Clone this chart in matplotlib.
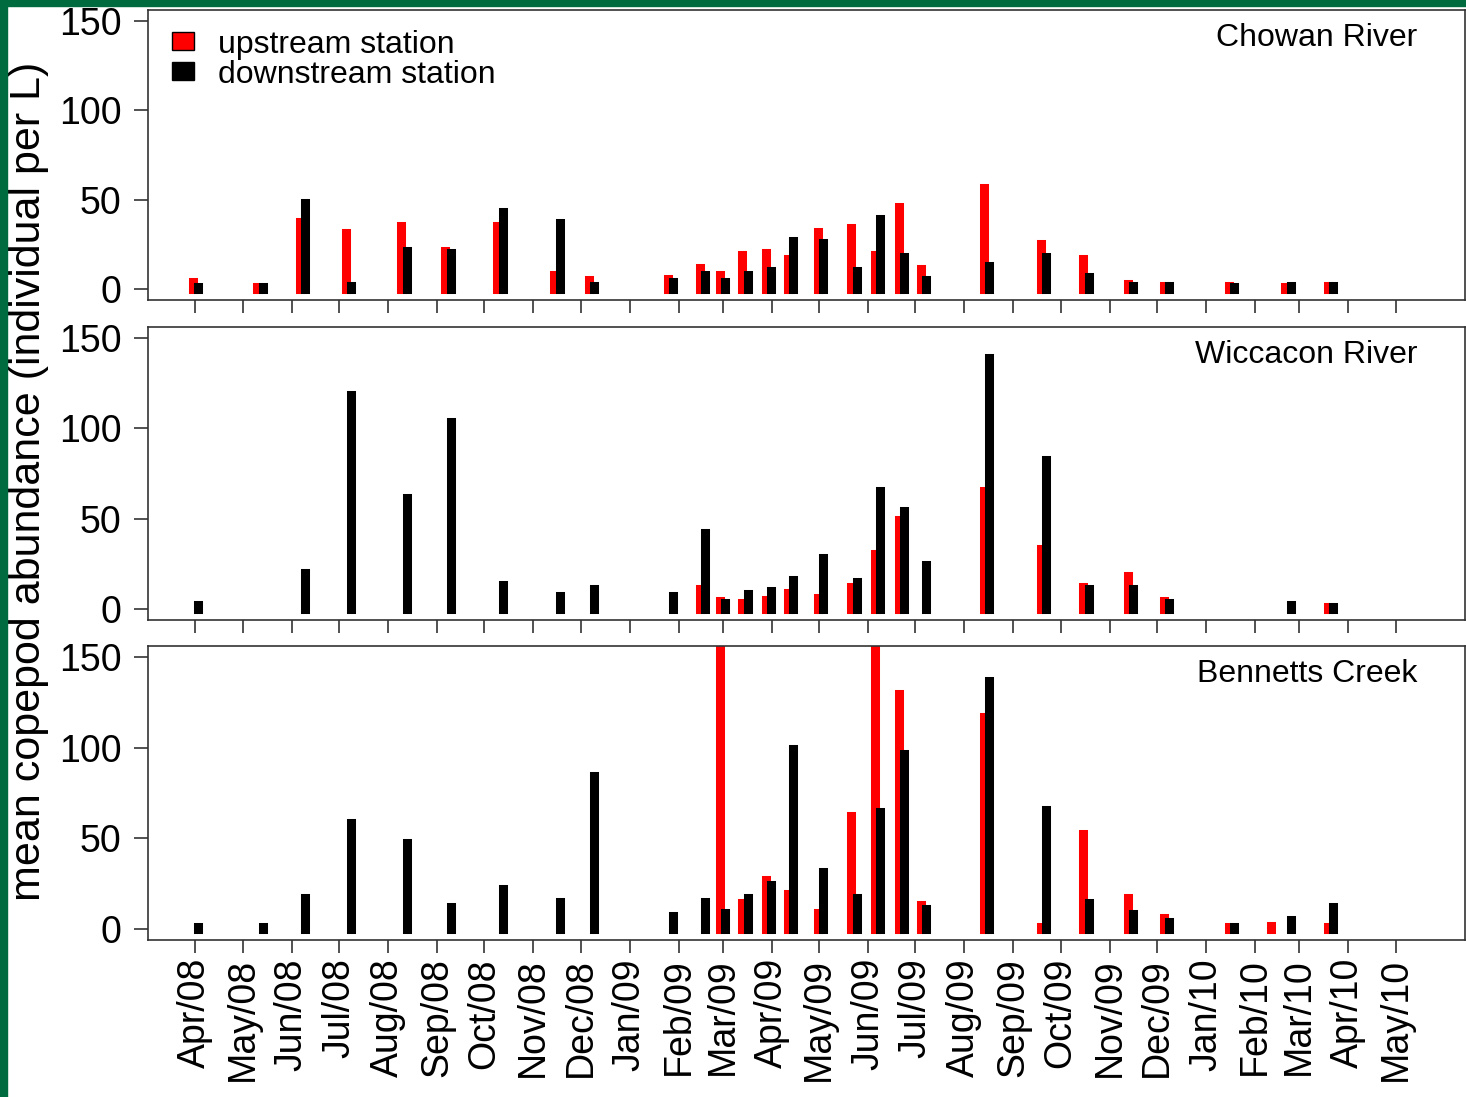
import numpy as np
import pandas as pd
import matplotlib
matplotlib.use("Agg")
import matplotlib.pyplot as plt
import matplotlib.dates as mdates
from matplotlib.patches import Patch, Rectangle

plt.rcParams['font.family'] = ['Liberation Sans', 'DejaVu Sans']

nan = np.nan

# sampling dates (shared by all three creeks)
sample_dates = ["2008-04-01", "2008-05-12", "2008-06-08", "2008-07-07", "2008-08-11",
                "2008-09-08", "2008-10-11", "2008-11-16", "2008-12-08", "2009-01-27",
                "2009-02-16", "2009-03-01", "2009-03-15", "2009-03-30", "2009-04-13",
                "2009-05-02", "2009-05-23", "2009-06-07", "2009-06-22", "2009-07-06",
                "2009-08-15", "2009-09-20", "2009-10-17", "2009-11-14", "2009-12-07",
                "2010-01-17", "2010-02-13", "2010-02-22", "2010-03-21"]

chowan_up = [3.9, 1.0, 37.4, 31.3, 35.2, 21.2, 35.2, 8.2, 5.0, 6.0,
             12.0, 8.0, 19.2, 20.1, 17.0, 32.2, 34.1, 19.2, 46.2, 11.1,
             56.4, 25.3, 17.0, 3.0, 1.9, 1.9, nan, 1.0, 1.9]
chowan_down = [1.0, 1.0, 48.4, 1.9, 21.2, 20.3, 43.2, 37.1, 1.9, 3.9,
               8.0, 3.9, 8.0, 10.0, 27.1, 26.1, 10.0, 39.2, 18.1, 5.0,
               13.1, 18.1, 7.1, 1.9, 1.9, 1.0, nan, 1.9, 1.9]

wiccacon_up = [nan, nan, nan, nan, nan, nan, nan, nan, nan, nan,
               11.2, 4.3, 3.2, 5.2, 9.2, 6.3, 12.3, 30.4, 49.5, nan,
               65.4, 33.3, 12.3, 18.2, 4.3, nan, nan, nan, 1.2]
wiccacon_down = [2.1, nan, 20.2, 118.4, 61.3, 103.4, 13.2, 7.2, 11.2, 7.2,
                 42.3, 3.2, 8.3, 10.3, 16.3, 28.2, 15.2, 65.4, 54.4, 24.4,
                 138.7, 82.4, 11.2, 11.2, 3.2, nan, nan, 2.1, 1.2]

bennetts_up = [nan, nan, nan, nan, nan, nan, nan, nan, nan, nan,
               nan, 190.0, 14.2, 27.2, 19.1, 9.1, 62.3, 175.0, 129.8, 13.1,
               116.8, 1.0, 52.3, 17.1, 5.9, 1.0, 1.9, nan, 1.0]
bennetts_down = [1.0, 1.0, 17.1, 58.4, 47.2, 12.0, 22.3, 15.1, 84.5, 7.0,
                 15.1, 9.1, 17.1, 24.3, 99.5, 31.3, 17.1, 64.5, 96.6, 11.0,
                 136.8, 65.4, 14.2, 8.1, 4.1, 1.0, nan, 5.0, 12.1]

sites = ["Chowan River", "Wiccacon River", "Bennetts Creek"]
upstream = [chowan_up, wiccacon_up, bennetts_up]
downstream = [chowan_down, wiccacon_down, bennetts_down]

W, H = 1466, 1097
fig = plt.figure(figsize=(W / 100, H / 100), dpi=100)

# panel boxes in pixels: (top, bottom)
boxes = [(10, 300), (327, 620), (646, 940)]
left_px, right_px = 148, 1465

dates = mdates.date2num(pd.to_datetime(sample_dates))
months = pd.date_range("2008-04-01", "2010-05-01", freq="MS")
shift = 1.7  # days between upstream / downstream bars
lw = 6.5
edge = "#333333"

for i, (site, up, down) in enumerate(zip(sites, upstream, downstream)):
    top, bot = boxes[i]
    ax = fig.add_axes([left_px / W, 1 - bot / H, (right_px - left_px) / W, (bot - top) / H])
    up = np.array(up)
    down = np.array(down)
    m = ~np.isnan(up)
    ax.vlines(dates[m] - shift, 0, up[m], colors="red", linewidth=lw, capstyle="projecting")
    m = ~np.isnan(down)
    ax.vlines(dates[m] + shift, 0, down[m], colors="black", linewidth=lw, capstyle="projecting")

    ax.set_xlim(mdates.date2num(pd.Timestamp("2008-03-02")), mdates.date2num(pd.Timestamp("2010-06-14")))
    ax.set_ylim(-6, 156)
    ax.set_yticks([0, 50, 100, 150])
    ax.set_xticks(mdates.date2num(months))
    if i == 2:
        ax.set_xticklabels(months.strftime("%b/%y"), rotation=90, fontsize=27)
    else:
        ax.set_xticklabels([])
    ax.tick_params(axis="y", direction="out", length=10, width=1.2, color=edge, pad=9, labelsize=27)
    ax.tick_params(axis="x", direction="out", length=9, width=1.2, color=edge, pad=4)
    for s in ax.spines.values():
        s.set_linewidth(1.2)
        s.set_color(edge)

    ax.text(0.9636, 1 - 28 / (bot - top), site, transform=ax.transAxes,
            ha="right", va="center", fontsize=23)

    if i == 0:
        handles = [Patch(facecolor="red", edgecolor="black", linewidth=1),
                   Patch(facecolor="black", edgecolor="black", linewidth=1)]
        ax.legend(handles, ["upstream station", "downstream station"],
                  loc="upper left", bbox_to_anchor=(0.018, 0.932), frameon=False,
                  fontsize=23, handlelength=0.7, handleheight=0.5,
                  handletextpad=0.75, labelspacing=0.0, borderpad=0, borderaxespad=0)

fig.text(29 / W, 1 - 481 / H, "mean copepod abundance (individual per L)",
         rotation=90, ha="center", va="center", fontsize=31)

# green frame along the left and top edges
green = "#006b3f"
fig.patches.append(Rectangle((0, 0), 7 / W, 1, transform=fig.transFigure, color=green, zorder=10))
fig.patches.append(Rectangle((0, 1 - 6 / H), 1, 6 / H, transform=fig.transFigure, color=green, zorder=10))

fig.savefig("out.png", dpi=100)
